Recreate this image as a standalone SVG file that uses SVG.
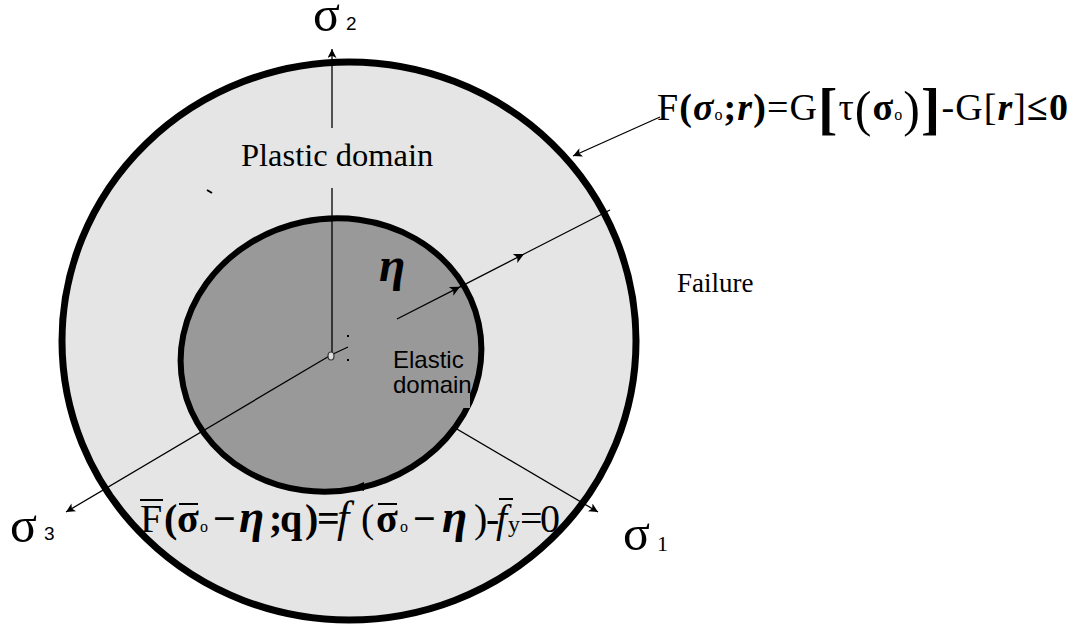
<svg xmlns="http://www.w3.org/2000/svg" width="1073" height="625" viewBox="0 0 1073 625">
<style>
.ax{stroke:#000;stroke-width:1.3;fill:none}
.ser{font-family:"Liberation Serif","Times New Roman",serif;fill:#000}
.san{font-family:"Liberation Sans",Arial,sans-serif;fill:#000}
.cjk{font-family:"Liberation Serif","Noto Sans CJK JP",serif;fill:#000}
.b{font-weight:bold}
.bi{font-weight:bold;font-style:italic}
.bar{stroke:#000;stroke-width:2}
</style>
<defs>
<marker id="arr" viewBox="0 0 10 10" refX="10" refY="5" markerWidth="13" markerHeight="9" markerUnits="userSpaceOnUse" orient="auto"><path d="M0,0 L10,5 L0,10 L2.5,5 z" fill="#000"/></marker>
<marker id="mid" viewBox="0 0 10 10" refX="10" refY="5" markerWidth="14" markerHeight="10" markerUnits="userSpaceOnUse" orient="auto"><path d="M0,0 L10,5 L0,10 L2.5,5 z" fill="#000"/></marker>
</defs>
<rect width="1073" height="625" fill="#fff"/>
<g id="failure-surface">
<ellipse cx="349" cy="341" rx="287" ry="279" fill="#e5e5e5" stroke="#000" stroke-width="7"/>
</g>
<g id="connectors-under">
<line class="ax" x1="331" y1="355" x2="598" y2="512" marker-end="url(#arr)"/>
</g>
<g id="yield-surface">
<ellipse cx="331" cy="355" rx="151" ry="136" transform="rotate(-12 331 355)" fill="#999" stroke="#000" stroke-width="6"/>
<path d="M364,482 L352,487 L364,491 Z" fill="#000"/>
</g>
<g id="elastic-domain">
<rect x="390" y="378" width="80" height="30" fill="#999"/>
<text class="san" x="393" y="368" font-size="24">Elastic</text>
<text class="san" x="393" y="393" font-size="24">domain</text>
</g>
<g id="connectors">
<line class="ax" x1="331" y1="355" x2="66" y2="512" marker-end="url(#arr)"/>
<line class="ax" x1="332" y1="355" x2="332" y2="188"/>
<line class="ax" x1="332" y1="128" x2="332" y2="49" marker-end="url(#arr)"/>
<line class="ax" x1="331" y1="355" x2="348" y2="347"/>
<polyline class="ax" points="397,319 460,286.8 524,254 610,210" marker-mid="url(#mid)"/>
<line class="ax" x1="660" y1="117" x2="573" y2="156" marker-end="url(#arr)"/>
<line x1="207" y1="190" x2="212" y2="193" stroke="#000" stroke-width="2"/>
</g>
<g id="origin">
<ellipse cx="331" cy="356" rx="3" ry="4" fill="#ddd" stroke="#333" stroke-width="1.2"/>
<rect x="347" y="335" width="2" height="2" fill="#000"/>
<rect x="347" y="359" width="2" height="2" fill="#000"/>
</g>
<g id="labels">
<text class="ser" x="241" y="166" font-size="32.5">Plastic domain</text>
<text class="ser" x="677" y="292" font-size="27">Failure</text>
<text class="ser bi" x="379" y="281" font-size="48">η</text>
<text class="cjk" x="313" y="31" font-size="50">σ</text>
<text class="san" x="346" y="30" font-size="19">2</text>
<text class="cjk" x="10" y="542" font-size="50">σ</text>
<text class="san" x="44" y="540" font-size="19">3</text>
<text class="cjk" x="623" y="550" font-size="50">σ</text>
<text class="ser" x="657" y="551" font-size="22">1</text>
</g>
<g id="failure-formula">
<text class="ser" x="657" y="120" font-size="38" textLength="411" lengthAdjust="spacing"><tspan>F</tspan><tspan class="b">(</tspan><tspan class="bi">σ</tspan><tspan font-size="16">o</tspan><tspan class="b">;</tspan><tspan class="bi">r</tspan><tspan class="b">)</tspan><tspan>=G</tspan><tspan class="b" font-size="58" dy="8">[</tspan><tspan class="cjk" font-size="38" dy="-8">τ</tspan><tspan font-size="50" dy="6">(</tspan><tspan class="b" dy="-6">σ</tspan><tspan font-size="16">o</tspan><tspan font-size="50" dy="6">)</tspan><tspan class="b" font-size="58" dy="2">]</tspan><tspan dy="-8">-G[</tspan><tspan class="bi">r</tspan><tspan>]</tspan><tspan class="b">≤0</tspan></text>
</g>
<g id="yield-formula">
<text class="ser" y="532" font-size="40"><tspan x="140">F</tspan><tspan class="b" x="164">(</tspan><tspan class="b" x="177">σ</tspan><tspan font-size="16" x="200">o</tspan><tspan class="b" x="213">−</tspan><tspan class="bi" font-size="46" x="239">η</tspan><tspan class="b" x="269">;</tspan><tspan class="b" x="280">q</tspan><tspan class="b" x="305">)</tspan><tspan class="b" x="317">=</tspan><tspan font-style="italic" font-size="44" x="337">f</tspan><tspan x="361">(</tspan><tspan class="b" x="376">σ</tspan><tspan font-size="16" x="400">o</tspan><tspan class="b" x="413">−</tspan><tspan class="bi" font-size="46" x="442">η</tspan><tspan x="474">)</tspan><tspan x="486">-</tspan><tspan font-style="italic" x="496">f</tspan><tspan font-size="24" x="508">y</tspan><tspan x="520">=</tspan><tspan x="540">0</tspan></text>
<line class="bar" x1="140" y1="500" x2="163" y2="500"/>
<line class="bar" x1="179" y1="504" x2="198" y2="504"/>
<line class="bar" x1="378" y1="504" x2="397" y2="504"/>
<line class="bar" x1="499" y1="499" x2="513" y2="499"/>
</g>
</svg>
